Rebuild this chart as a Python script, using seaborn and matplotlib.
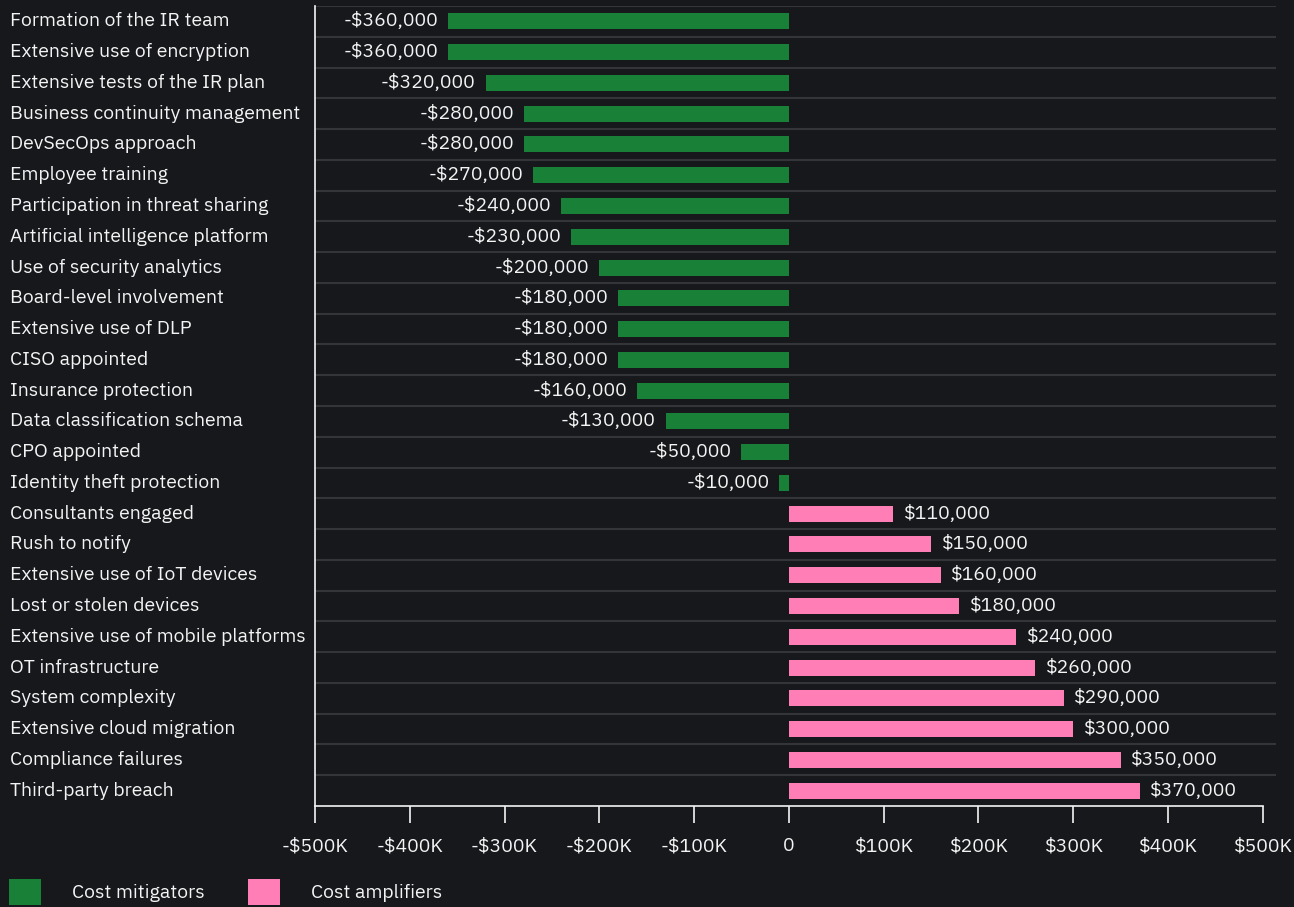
import numpy as np
import pandas as pd
import seaborn as sns
import matplotlib.pyplot as plt
from matplotlib.patches import Patch
from matplotlib.transforms import blended_transform_factory

factors = [
    "Formation of the IR team", "Extensive use of encryption", "Extensive tests of the IR plan",
    "Business continuity management", "DevSecOps approach", "Employee training",
    "Participation in threat sharing", "Artificial intelligence platform", "Use of security analytics",
    "Board-level involvement", "Extensive use of DLP", "CISO appointed", "Insurance protection",
    "Data classification schema", "CPO appointed", "Identity theft protection",
    "Consultants engaged", "Rush to notify", "Extensive use of IoT devices", "Lost or stolen devices",
    "Extensive use of mobile platforms", "OT infrastructure", "System complexity",
    "Extensive cloud migration", "Compliance failures", "Third-party breach",
]
cost_change = [
    -360000, -360000, -320000, -280000, -280000, -270000, -240000, -230000, -200000,
    -180000, -180000, -180000, -160000, -130000, -50000, -10000,
    110000, 150000, 160000, 180000, 240000, 260000, 290000, 300000, 350000, 370000,
]
groups = ["Cost mitigators", "Cost amplifiers"]
tick_values = [-500000, -400000, -300000, -200000, -100000, 0, 100000, 200000, 300000, 400000, 500000]
tick_labels = ["-$500K", "-$400K", "-$300K", "-$200K", "-$100K", "0",
               "$100K", "$200K", "$300K", "$400K", "$500K"]

df = pd.DataFrame({"factor": factors, "value": cost_change})
df["group"] = np.where(df["value"] < 0, groups[0], groups[1])

bg = "#16181b"
fg = "#f4f4f4"
colors = {groups[0]: "#198038", groups[1]: "#ff7eb6"}

sns.set_theme(style="dark")
plt.rcParams["font.family"] = ["IBM Plex Sans", "Roboto", "DejaVu Sans"]

fig = plt.figure(figsize=(12.94, 9.07), dpi=100, facecolor=bg)
ax = fig.add_axes([315 / 1294, 1 - 806 / 907, (1276 - 315) / 1294, 800 / 907])
ax.set_facecolor(bg)

sns.barplot(data=df, x="value", y="factor", hue="group", palette=colors, dodge=False,
            width=0.52, orient="h", legend=False, saturation=1, linewidth=0, ax=ax)

fs = 14
for cont in ax.containers:
    labels = [("-$" if v < 0 else "$") + f"{abs(v):,.0f}" for v in cont.datavalues]
    ax.bar_label(cont, labels=labels, padding=7, color=fg, fontsize=fs)

ax.set_xlim(-500000, 514000)
ax.set_ylim(len(factors) - 0.5, -0.5)
ax.set_xticks(tick_values)
ax.set_xticklabels(tick_labels, color=fg, fontsize=fs)
ax.tick_params(axis="x", bottom=True, length=12.5, width=1.2, color=fg, pad=10)
ax.set_xlabel("")
ax.set_ylabel("")

# row separators
ax.set_yticks(np.arange(len(factors)))
ax.set_yticklabels([])
ax.tick_params(axis="y", length=0)
ax.set_yticks(np.arange(len(factors)) - 0.5, minor=True)
ax.tick_params(axis="y", which="minor", length=0)
ax.grid(False)
ax.grid(which="minor", axis="y", color="#333538", linewidth=1.5)

tr = blended_transform_factory(fig.transFigure, ax.transData)
for i, name in enumerate(factors):
    ax.text(10 / 1294, i, name, transform=tr, ha="left", va="center", color=fg, fontsize=fs)

for side in ["top", "right"]:
    ax.spines[side].set_visible(False)
ax.spines["left"].set_color(fg)
ax.spines["bottom"].set_color(fg)
ax.spines["left"].set_linewidth(1.2)
ax.spines["bottom"].set_linewidth(1.2)
ax.spines["bottom"].set_bounds(-500000, 500000)

handles = [Patch(facecolor=colors[g], edgecolor="none", label=g) for g in groups]
fig.legend(handles=handles, loc="center left", bbox_to_anchor=(9 / 1294, 1 - 892 / 907),
           frameon=False, fontsize=fs, labelcolor=fg, ncol=2, handlelength=1.65,
           handleheight=1.65, handletextpad=1.6, columnspacing=2.2,
           borderpad=0, borderaxespad=0)

fig.savefig("out.png", dpi=100, facecolor=bg)
